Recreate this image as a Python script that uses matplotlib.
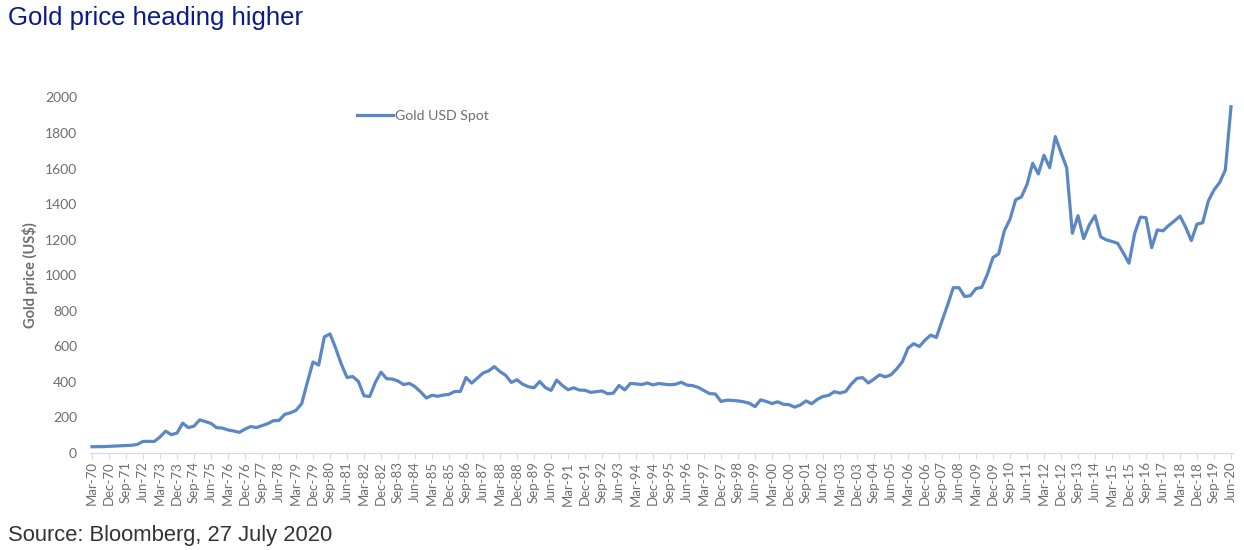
import pandas as pd
import matplotlib.pyplot as plt

# Quarter-end gold spot price (US$/oz), Mar-70 .. Jun-20
gold_1970s = [35.2, 35.5, 36.0, 37.4, 38.9, 40.1, 42.0, 43.6, 48.4, 65.1, 65.5, 64.9,
              90.0, 123.0, 103.0, 112.3, 168.0, 143.0, 151.0, 186.5, 177.0, 166.3, 142.4, 140.3,
              129.6, 123.8, 116.0, 134.5, 148.9, 143.0, 154.1, 165.0, 181.6, 183.1, 217.1, 226.0,
              240.1, 277.5, 397.3, 512.0]
gold_1980s = [494.5, 653.0, 670.0, 589.8, 499.5, 425.0, 430.0, 403.0, 322.0, 318.0, 397.0, 455.0,
              418.0, 416.0, 405.0, 385.0, 392.0, 373.0, 344.0, 309.0, 325.0, 319.0, 326.0, 330.0,
              346.0, 346.0, 425.0, 393.0, 421.0, 450.0, 462.0, 486.0, 458.0, 437.0, 397.0, 412.0,
              387.0, 373.0, 367.0, 402.0]
gold_1990s = [368.0, 352.0, 410.0, 380.0, 356.0, 367.0, 354.0, 353.0, 341.0, 345.0, 349.0, 333.0,
              337.0, 380.0, 355.0, 391.0, 389.0, 385.0, 394.0, 383.0, 391.0, 387.0, 384.0, 387.0,
              398.0, 382.0, 379.0, 369.0, 351.0, 334.0, 332.0, 290.0, 297.0, 296.0, 293.0, 288.0,
              280.0, 261.0, 299.0, 290.0]
gold_2000s = [278.0, 288.0, 274.0, 272.0, 258.0, 270.0, 293.0, 277.0, 302.0, 318.0, 324.0, 345.0,
              337.0, 346.0, 388.0, 420.0, 424.0, 394.0, 416.0, 440.0, 428.0, 440.0, 473.0, 513.0,
              590.0, 615.0, 599.0, 635.0, 663.0, 650.0, 743.0, 834.0, 930.0, 930.0, 880.0, 885.0,
              925.0, 932.0, 1005.0, 1100.0]
gold_2010s = [1120.0, 1250.0, 1315.0, 1425.0, 1440.0, 1510.0, 1630.0, 1570.0, 1675.0, 1605.0, 1780.0, 1690.0,
              1605.0, 1236.0, 1335.0, 1206.0, 1284.0, 1335.0, 1216.0, 1199.0, 1190.0, 1180.0, 1125.0, 1068.0,
              1235.0, 1327.0, 1324.0, 1155.0, 1255.0, 1250.0, 1280.0, 1305.0, 1333.0, 1270.0, 1195.0, 1288.0,
              1295.0, 1418.0, 1480.0, 1522.0]
gold_2020s = [1592.0, 1948.0]

prices = gold_1970s + gold_1980s + gold_1990s + gold_2000s + gold_2010s + gold_2020s
quarters = pd.date_range("1970-03-31", "2020-06-30", freq="QE").strftime("%b-%y").tolist()

series_name = "Gold USD Spot"
title = "Gold price heading higher"
source = "Source: Bloomberg, 27 July 2020"

fig = plt.figure(figsize=(12.44, 5.5), dpi=100)
ax = fig.add_axes([90.3 / 1244, 97 / 550, 1142.4 / 1244, 355.5 / 550])

x = list(range(len(prices)))
ax.plot(x, prices, color="#5b87c5", lw=2.3, label=series_name, solid_joinstyle="round")

ax.set_xlim(-0.3, len(prices) - 0.7)
ax.set_ylim(0, 2000)
ax.set_yticks(range(0, 2001, 200))
ax.set_xticks(x[::3])
ax.set_xticklabels(quarters[::3], rotation=90, fontsize=9.5, color="#6e6e6e", family="Lato")
for lab in ax.get_yticklabels():
    lab.set_fontsize(10)
    lab.set_color("#6e6e6e")
    lab.set_family("Lato")

for s in ["top", "right", "left"]:
    ax.spines[s].set_visible(False)
ax.spines["bottom"].set_color("#d9d9d9")
ax.tick_params(axis="y", length=0, pad=9.5)
ax.tick_params(axis="x", length=4, color="#d9d9d9", pad=2)

ax.set_ylabel("Gold price (US$)", fontsize=10.5, fontweight="bold", color="#6e6e6e",
              family="Lato", labelpad=5)

leg = ax.legend(loc="upper left", bbox_to_anchor=(0.222, 1.0), frameon=False,
                handlelength=2.6, handletextpad=0.1, prop={"family": "Lato", "size": 10.2})
for t in leg.get_texts():
    t.set_color("#6e6e6e")

fig.text(8 / 1244, 1 - 18 / 550, title, fontsize=18.5, color="#0a1a8c",
         family="Liberation Sans", va="center", ha="left")
fig.text(8 / 1244, 1 - 535 / 550, source, fontsize=15.8, color="#333333",
         family="Liberation Sans", va="center", ha="left")

plt.savefig("out.png", dpi=100)
plt.close()
